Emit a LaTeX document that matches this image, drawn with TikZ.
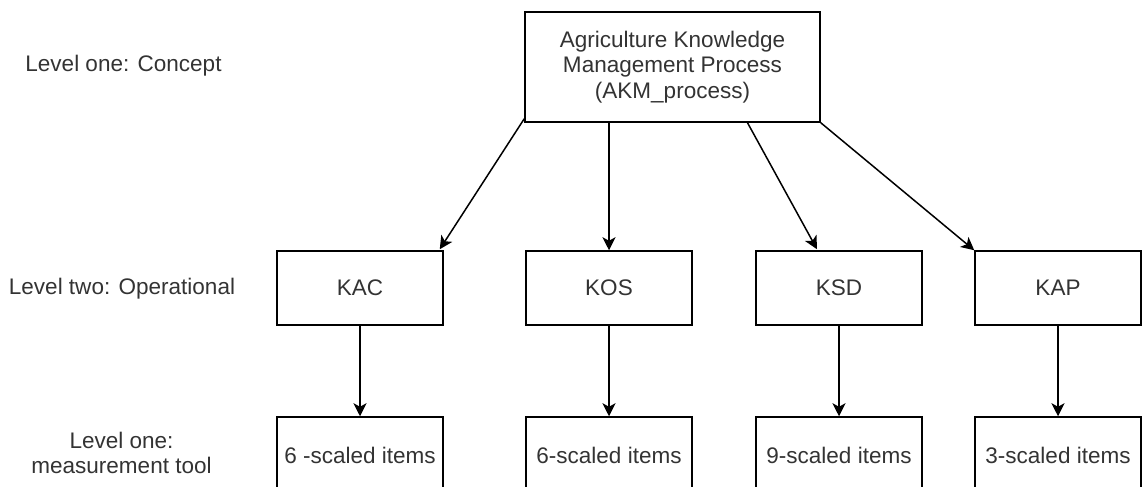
\documentclass[tikz,border=0pt]{standalone}
\usepackage{fontspec}
\setmainfont{Liberation Sans}
\usetikzlibrary{arrows.meta,calc}
\begin{document}
\begin{tikzpicture}[x=1bp,y=-1bp,
  txt/.style={text=black!80, font=\fontsize{22.6}{25.5}\selectfont, align=center},
  box/.style={txt, draw=black, line width=1.5bp, inner sep=0pt,
    minimum width=166bp, minimum height=74bp},
  lvl/.style={txt, inner sep=0pt},
  link/.style={draw=black, line width=1.5bp,
    -{Stealth[length=13bp,width=13bp,inset=3.5bp]}}]
  \useasboundingbox (0,0) rectangle (1142,487);
  \clip (0,0) rectangle (1142,487);

  % level labels on the left
  \node[lvl] (l1) at (123.5,66) {Level one: Concept};
  \node[lvl] (l2) at (122,289) {Level two: Operational};
  \node[lvl] (l3) at (121.5,453) {Level one:\\measurement tool};

  % concept
  \node[box, minimum width=295bp, minimum height=110bp] (top) at (672.5,67)
    {Agriculture Knowledge\\Management Process\\(AKM\_process)};

  % operational constructs
  \node[box] (kac) at (360,288) {KAC};
  \node[box] (kos) at (609,288) {KOS};
  \node[box] (ksd) at (839,288) {KSD};
  \node[box] (kap) at (1058,288) {KAP};

  % measurement items
  \node[box, minimum height=76bp] (m1) at (360,455) {6 -scaled items};
  \node[box, minimum height=76bp] (m2) at (609,455) {6-scaled items};
  \node[box, minimum height=76bp] (m3) at (839,455) {9-scaled items};
  \node[box, minimum height=76bp] (m4) at (1058,455) {3-scaled items};

  % concept to constructs
  \draw[link] ($(top.south west)+(0,-4)$) -- ($(kac.north east)+(-4,-1)$);
  \draw[link] (top.south -| kos.north) -- (kos.north);
  \draw[link] ($(top.south)+(75,0)$) -- ($(ksd.north)+(-22,-1)$);
  \draw[link] (top.south east) -- (kap.north west);

  % constructs to items
  \draw[link] (kac.south) -- (m1.north);
  \draw[link] (kos.south) -- (m2.north);
  \draw[link] (ksd.south) -- (m3.north);
  \draw[link] (kap.south) -- (m4.north);
\end{tikzpicture}
\end{document}
